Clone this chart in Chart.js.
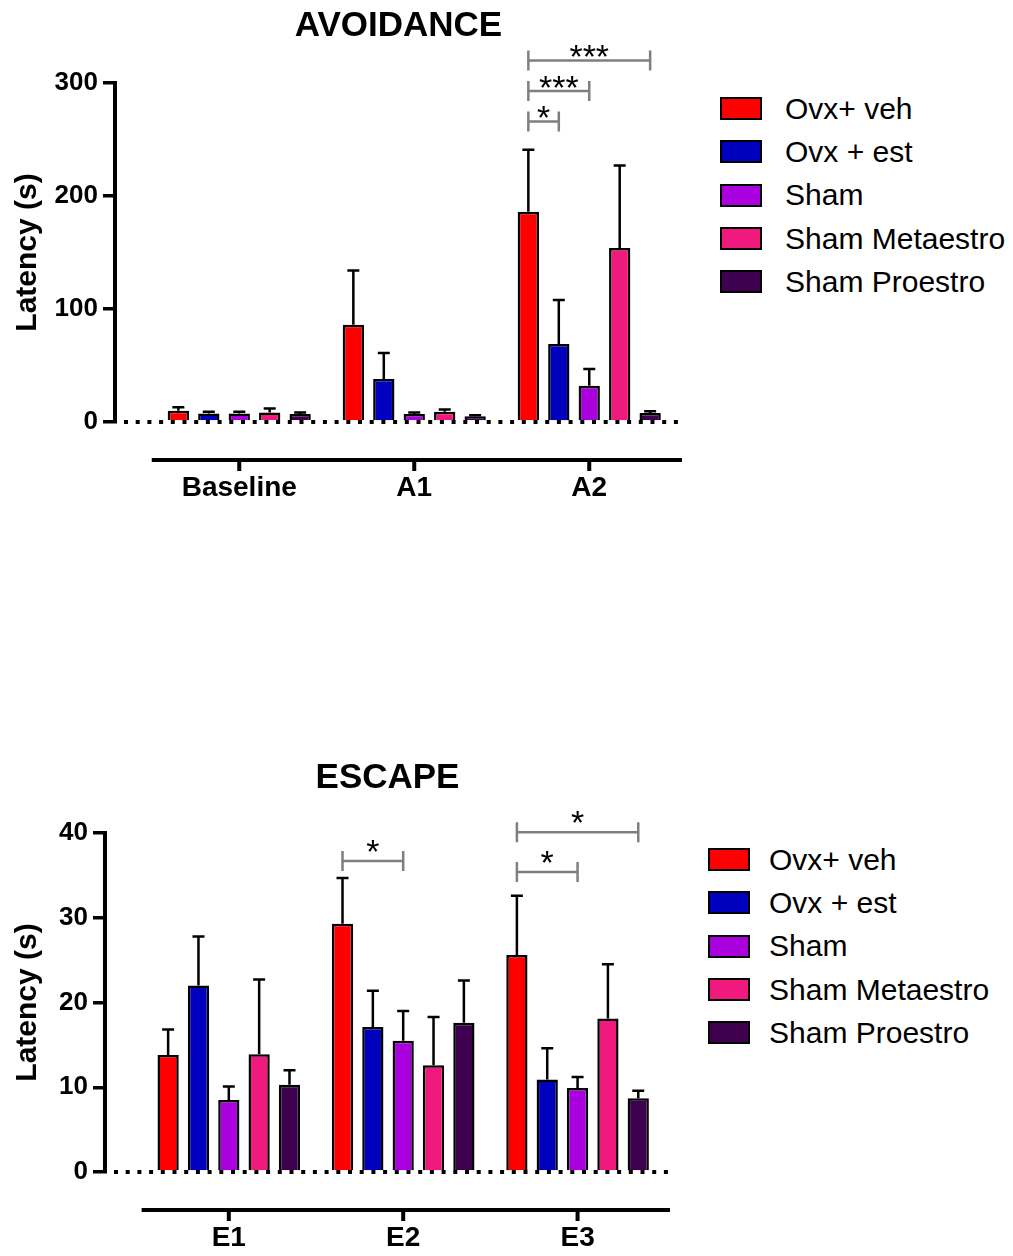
<!DOCTYPE html>
<html lang="en">
  <head>
    <meta charset="UTF-8" />
    <title>Avoidance and escape latency</title>
    <style>
      body { margin: 0; background: #fff; font-family: "Liberation Sans", Arial, sans-serif; }
      #page { position: relative; width: 1013px; height: 1256px; overflow: hidden; }
      canvas { position: absolute; left: 0; }
      #avoidanceChart { top: 0; }
      #escapeChart { top: 740px; }
      .legend { position: absolute; font-size: 30px; color: #000; }
      .legend .row { display: flex; align-items: center; height: 43.3px; white-space: nowrap; }
      .legend .box { width: 42px; height: 23px; box-sizing: border-box; border: 2.5px solid #000; flex: none; }
      #avoidanceLegend { left: 720px; top: 87px; }
      #avoidanceLegend .box { margin-right: 23px; }
      #escapeLegend { left: 708px; top: 838px; }
      #escapeLegend .box { margin-right: 19px; }
    </style>
  </head>
  <body>
    <div id="page">
      <canvas id="avoidanceChart" width="700" height="520"></canvas>
      <div class="legend" id="avoidanceLegend"></div>
      <canvas id="escapeChart" width="700" height="516"></canvas>
      <div class="legend" id="escapeLegend"></div>
    </div>

    <script src="https://cdn.jsdelivr.net/npm/chart.js/dist/chart.umd.min.js"></script>
    <script>
      // groups (same for both panels)
      const groups = ['Ovx+ veh', 'Ovx + est', 'Sham', 'Sham Metaestro', 'Sham Proestro'];
      const groupColors = ['#ff0000', '#0000bf', '#a900dd', '#f01a7f', '#3e004f'];

      // AVOIDANCE: mean latency and SEM per group
      const avoidanceLabels = ['Baseline', 'A1', 'A2'];
      const avoidVeh = [10, 86, 186];
      const avoidVehErr = [3, 48, 55];
      const avoidEst = [7.5, 38, 69];
      const avoidEstErr = [1.5, 23, 39];
      const avoidSham = [7.5, 7, 32];
      const avoidShamErr = [1.5, 1.5, 15];
      const avoidMeta = [8.5, 9, 154];
      const avoidMetaErr = [3.5, 2, 73];
      const avoidPro = [7, 5, 8];
      const avoidProErr = [1.5, 1, 1.5];
      // [category, from group, to group, height (s), label]
      const avoidanceSig = [[2, 0, 4, 320, '***'], [2, 0, 2, 293, '***'], [2, 0, 1, 266, '*']];

      // ESCAPE
      const escapeLabels = ['E1', 'E2', 'E3'];
      const escVeh = [13.8, 29.3, 25.6];
      const escVehErr = [3, 5.4, 7];
      const escEst = [22, 17.1, 10.9];
      const escEstErr = [5.8, 4.3, 3.7];
      const escSham = [8.5, 15.5, 9.9];
      const escShamErr = [1.6, 3.5, 1.3];
      const escMeta = [13.9, 12.6, 18.1];
      const escMetaErr = [8.8, 5.7, 6.4];
      const escPro = [10.3, 17.6, 8.7];
      const escProErr = [1.7, 5, 0.9];
      const escapeSig = [[1, 0, 2, 36.7, '*'], [2, 0, 4, 40.1, '*'], [2, 0, 2, 35.4, '*']];

      Chart.defaults.font.family = '"Liberation Sans", Arial, sans-serif';
      Chart.defaults.color = '#000';

      // error bars, dotted zero line, detached category axis, significance brackets
      const latencyMarks = {
        id: 'latencyMarks',
        afterDatasetsDraw(chart, args, opts) {
          const { ctx, chartArea } = chart;
          const x = chart.scales.x, y = chart.scales.y;
          ctx.save();
          ctx.strokeStyle = '#000';
          ctx.lineWidth = 2.5;
          chart.data.datasets.forEach((ds, di) => {
            chart.getDatasetMeta(di).data.forEach((bar, i) => {
              const top = y.getPixelForValue(ds.data[i].y + ds.errors[i]);
              ctx.beginPath();
              ctx.moveTo(bar.x, bar.y);
              ctx.lineTo(bar.x, top);
              ctx.moveTo(bar.x - 6, top);
              ctx.lineTo(bar.x + 6, top);
              ctx.stroke();
            });
          });

          const y0 = y.getPixelForValue(0);
          ctx.lineWidth = 4;
          ctx.setLineDash([4, 7.7]);
          ctx.beginPath();
          ctx.moveTo(chartArea.left + 9, y0);
          ctx.lineTo(chartArea.right, y0);
          ctx.stroke();
          ctx.setLineDash([]);

          const axisY = y0 + 38;
          ctx.beginPath();
          ctx.moveTo(x.getPixelForValue(-0.5), axisY);
          ctx.lineTo(chartArea.right, axisY);
          opts.categories.forEach((c, i) => {
            const px = x.getPixelForValue(i);
            ctx.moveTo(px, axisY);
            ctx.lineTo(px, axisY + 11);
          });
          ctx.stroke();

          ctx.font = '34px "Liberation Sans", Arial, sans-serif';
          ctx.textAlign = 'center';
          ctx.textBaseline = 'alphabetic';
          opts.brackets.forEach(([cat, from, to, value, text]) => {
            const x1 = chart.getDatasetMeta(from).data[cat].x;
            const x2 = chart.getDatasetMeta(to).data[cat].x;
            const by = y.getPixelForValue(value);
            ctx.strokeStyle = '#7f7f7f';
            ctx.lineWidth = 2.5;
            ctx.beginPath();
            ctx.moveTo(x1, by - 10); ctx.lineTo(x1, by + 10);
            ctx.moveTo(x1, by); ctx.lineTo(x2, by);
            ctx.moveTo(x2, by - 10); ctx.lineTo(x2, by + 10);
            ctx.stroke();
            ctx.fillStyle = '#000';
            ctx.fillText(text, (x1 + x2) / 2, by - opts.starLift + 20);
          });
          ctx.restore();
        }
      };

      function buildDatasets(means, errors) {
        return groups.map((name, g) => ({
          label: name,
          data: means[g].map((v, i) => ({ x: i, y: v })),
          errors: errors[g],
          backgroundColor: groupColors[g],
          borderColor: '#000',
          borderWidth: 2.5,
          categoryPercentage: 0.87,
          barPercentage: 0.7
        }));
      }

      function makeChart(id, p) {
        return new Chart(document.getElementById(id), {
          type: 'bar',
          data: { datasets: buildDatasets(p.means, p.errors) },
          options: {
            responsive: false,
            animation: false,
            devicePixelRatio: 1,
            layout: { padding: { top: 0, right: p.padRight, bottom: 0, left: 0 } },
            plugins: {
              legend: { display: false },
              tooltip: { enabled: false },
              title: {
                display: true,
                text: p.title,
                fullSize: false,
                font: { size: 35, weight: 'bold' },
                color: '#000',
                padding: { top: p.titleTop, bottom: p.titleBottom }
              },
              latencyMarks: { categories: p.categories, brackets: p.brackets, starLift: p.starLift }
            },
            scales: {
              x: {
                type: 'linear',
                min: -0.71,
                max: 2.53,
                offset: false,
                afterBuildTicks: s => { s.ticks = p.categories.map((c, i) => ({ value: i })); },
                afterFit: s => { s.height = p.xHeight; },
                grid: { display: false, drawTicks: false, offset: false },
                border: { display: false },
                ticks: {
                  callback: v => p.categories[v],
                  font: { size: 28, weight: 'bold' },
                  color: '#000',
                  padding: 49,
                  autoSkip: false,
                  maxRotation: 0
                }
              },
              y: {
                min: 0,
                max: p.yMax,
                afterFit: s => { s.width = p.yWidth; },
                ticks: { stepSize: p.yStep, font: { size: 26, weight: 'bold' }, color: '#000', padding: 5 },
                grid: { drawOnChartArea: false, drawTicks: true, tickLength: 12, lineWidth: 3.5, color: '#000' },
                border: { display: true, width: 4, color: '#000' },
                title: {
                  display: true,
                  text: 'Latency (s)',
                  font: { size: 30, weight: 'bold' },
                  color: '#000',
                  padding: { top: 10, bottom: 0 }
                }
              }
            }
          },
          plugins: [latencyMarks]
        });
      }

      makeChart('avoidanceChart', {
        title: 'AVOIDANCE',
        categories: avoidanceLabels,
        means: [avoidVeh, avoidEst, avoidSham, avoidMeta, avoidPro],
        errors: [avoidVehErr, avoidEstErr, avoidShamErr, avoidMetaErr, avoidProErr],
        brackets: avoidanceSig,
        yMax: 300, yStep: 100,
        yWidth: 115, xHeight: 98, padRight: 18,
        titleTop: 5.5, titleBottom: 35.5,
        starLift: 12
      });

      makeChart('escapeChart', {
        title: 'ESCAPE',
        categories: escapeLabels,
        means: [escVeh, escEst, escSham, escMeta, escPro],
        errors: [escVehErr, escEstErr, escShamErr, escMetaErr, escProErr],
        brackets: escapeSig,
        yMax: 40, yStep: 10,
        yWidth: 105, xHeight: 84, padRight: 30,
        titleTop: 17.5, titleBottom: 33.5,
        starLift: 18
      });

      // html legends
      ['avoidanceLegend', 'escapeLegend'].forEach(id => {
        const el = document.getElementById(id);
        groups.forEach((name, g) => {
          const row = document.createElement('div');
          row.className = 'row';
          const box = document.createElement('span');
          box.className = 'box';
          box.style.background = groupColors[g];
          const txt = document.createElement('span');
          txt.textContent = name;
          row.appendChild(box);
          row.appendChild(txt);
          el.appendChild(row);
        });
      });
    </script>
  </body>
</html>
